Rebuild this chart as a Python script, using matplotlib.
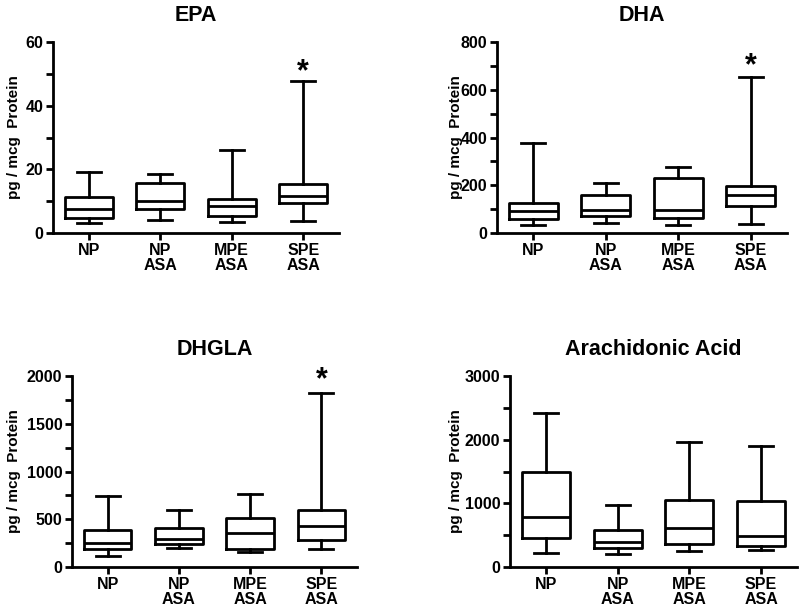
import matplotlib
matplotlib.use("Agg")
import matplotlib.pyplot as plt
from matplotlib.ticker import MultipleLocator

plt.rcParams['font.family'] = ['Liberation Sans', 'DejaVu Sans']
plt.rcParams['font.weight'] = 'bold'

categories = ["NP\n", "NP\nASA", "MPE\nASA", "SPE\nASA"]

# each group: (min, Q1, median, Q3, max)
epa = [(3.1, 4.7, 7.5, 11.2, 19.1), (4.2, 7.5, 10.2, 15.8, 18.6),
       (3.4, 5.2, 8.4, 10.8, 26.2), (3.7, 9.4, 11.7, 15.4, 47.9)]
dha = [(35, 59, 94, 127, 377), (42, 70, 95, 158, 208),
       (35, 63, 98, 230, 276), (38, 112, 158, 195, 653)]
dhgla = [(112, 192, 252, 385, 741), (199, 241, 290, 409, 594),
         (157, 192, 360, 517, 769), (192, 280, 427, 594, 1818)]
arach = [(226, 456, 787, 1495, 2423), (199, 299, 393, 577, 970),
         (252, 367, 614, 1059, 1967), (262, 325, 488, 1038, 1904)]

titles = ["EPA", "DHA", "DHGLA", "Arachidonic Acid"]
datasets = [epa, dha, dhgla, arach]
ymax = [60, 800, 2000, 3000]
major = [20, 200, 500, 1000]
minor = [10, 100, 250, 500]
star_y = [50.5, 700, 1960, None]
ylabel = "pg / mcg  Protein"

W, H = 800, 608
fig = plt.figure(figsize=(8, 6.08), dpi=100)
# (left, right, top, bottom) in pixels; ylabel x in pixels
rects = [(53, 339, 42, 233, 21), (497, 787, 42, 233, 463),
         (72, 357, 376, 567, 21), (510, 797, 376, 567, 463)]

lw = 2.0
fs = 11.5
for i, (l, r, t, b, ylx) in enumerate(rects):
    ax = fig.add_axes([l / W, 1 - b / H, (r - l) / W, (b - t) / H])
    stats = []
    for j, (mn, q1, med, q3, mx) in enumerate(datasets[i]):
        stats.append(dict(whislo=mn, q1=q1, med=med, q3=q3, whishi=mx, label=categories[j]))
    ax.bxp(stats, positions=[1, 2, 3, 4], widths=0.67, showfliers=False,
           boxprops=dict(color='black', linewidth=lw),
           medianprops=dict(color='black', linewidth=lw),
           whiskerprops=dict(color='black', linewidth=lw),
           capprops=dict(color='black', linewidth=lw))
    ax.set_xlim(0.5, 4.5)
    ax.set_ylim(0, ymax[i])
    ax.yaxis.set_major_locator(MultipleLocator(major[i]))
    ax.yaxis.set_minor_locator(MultipleLocator(minor[i]))
    for s in ['top', 'right']:
        ax.spines[s].set_visible(False)
    for s in ['left', 'bottom']:
        ax.spines[s].set_linewidth(lw)
    ax.tick_params(axis='both', which='major', direction='out', length=5, width=lw,
                   labelsize=fs, pad=2)
    ax.tick_params(axis='y', which='minor', direction='out', length=5, width=lw)
    for lab in ax.get_xticklabels() + ax.get_yticklabels():
        lab.set_fontweight('bold')
    ax.set_xticks([1, 2, 3, 4])
    ax.set_xticklabels(categories, fontsize=fs, fontweight='bold', linespacing=1.0)
    ax.set_title(titles[i], fontsize=15.5, fontweight='bold', pad=15)
    ax.set_ylabel(ylabel, fontsize=11, fontweight='bold')
    ax.yaxis.set_label_coords((ylx - l) / (r - l), 0.5)
    if star_y[i] is not None:
        ax.text(4, star_y[i], "*", ha='center', va='center', fontsize=22,
                fontweight='bold', clip_on=False)

fig.savefig("out.png", dpi=100, facecolor='white')
